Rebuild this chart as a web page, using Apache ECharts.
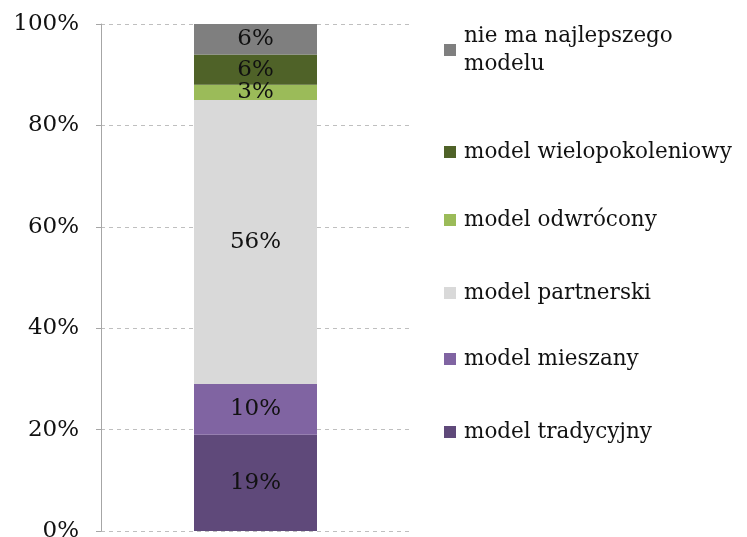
<!DOCTYPE html>
<html>
<head>
<meta charset="utf-8">
<script src="https://cdn.jsdelivr.net/npm/echarts@6/dist/echarts.min.js"></script>
<style>
  html, body { margin: 0; padding: 0; background: #fff; }
  #chart { width: 747px; height: 537px; }
</style>
</head>
<body>
<div id="chart"></div>
<script>
// data, bottom of the stack first
var categories = [''];
var seriesNames = [
    'model tradycyjny',
    'model mieszany',
    'model partnerski',
    'model odwrócony',
    'model wielopokoleniowy',
    'nie ma najlepszego\nmodelu'
];
var seriesValues = [19, 10, 56, 3, 6, 6];
var seriesColors = ['#5f497a', '#8064a2', '#d9d9d9', '#9bbb59', '#4f6228', '#7f7f7f'];
// vertical centre of each legend entry (first line)
var legendCentres = [432, 359, 293, 220, 152, 50];

var font = 'DejaVu Serif';
var fs = 23;

var myChart = echarts.init(document.getElementById('chart'), null, { renderer: 'canvas' });

var series = seriesNames.map(function (name, i) {
    return {
        name: name,
        type: 'bar',
        stack: 'total',
        barWidth: 123,
        data: [seriesValues[i]],
        itemStyle: { color: seriesColors[i] },
        label: {
            show: true,
            position: 'inside',
            formatter: '{c}%',
            color: '#111',
            fontFamily: font,
            fontSize: fs
        },
        emphasis: { disabled: true }
    };
});

// one legend per entry so each can sit where the reference puts it
var legends = seriesNames.map(function (name, i) {
    var twoLines = name.indexOf('\n') >= 0;
    return {
        data: [name],
        left: 444,
        top: twoLines ? legendCentres[i] - 42 : legendCentres[i] - 14,
        padding: 0,
        itemWidth: 12,
        itemHeight: 12,
        itemGap: 0,
        icon: 'rect',
        selectedMode: false,
        textStyle: {
            fontFamily: font,
            fontSize: 21.5,
            color: '#111',
            lineHeight: 28,
            padding: twoLines ? [28, 0, 0, 3] : [0, 0, 0, 3]
        }
    };
});

var option = {
    animation: false,
    legend: legends,
    grid: { left: 101, right: 337, top: 24, bottom: 6, containLabel: false, outerBoundsMode: 'none' },
    xAxis: {
        type: 'category',
        data: categories,
        axisLine: { show: false },
        axisTick: { show: false },
        axisLabel: { show: false }
    },
    yAxis: {
        type: 'value',
        min: 0,
        max: 100,
        interval: 20,
        axisLine: { show: true, lineStyle: { color: '#a6a6a6', width: 1 } },
        axisTick: { show: true, length: 5, lineStyle: { color: '#a6a6a6' } },
        axisLabel: {
            formatter: '{value}%',
            fontFamily: font,
            fontSize: fs,
            color: '#111',
            margin: 22
        },
        splitLine: { show: true, lineStyle: { color: '#bfbfbf', type: [4, 4] } }
    },
    series: series
};

myChart.setOption(option);
</script>
</body>
</html>
